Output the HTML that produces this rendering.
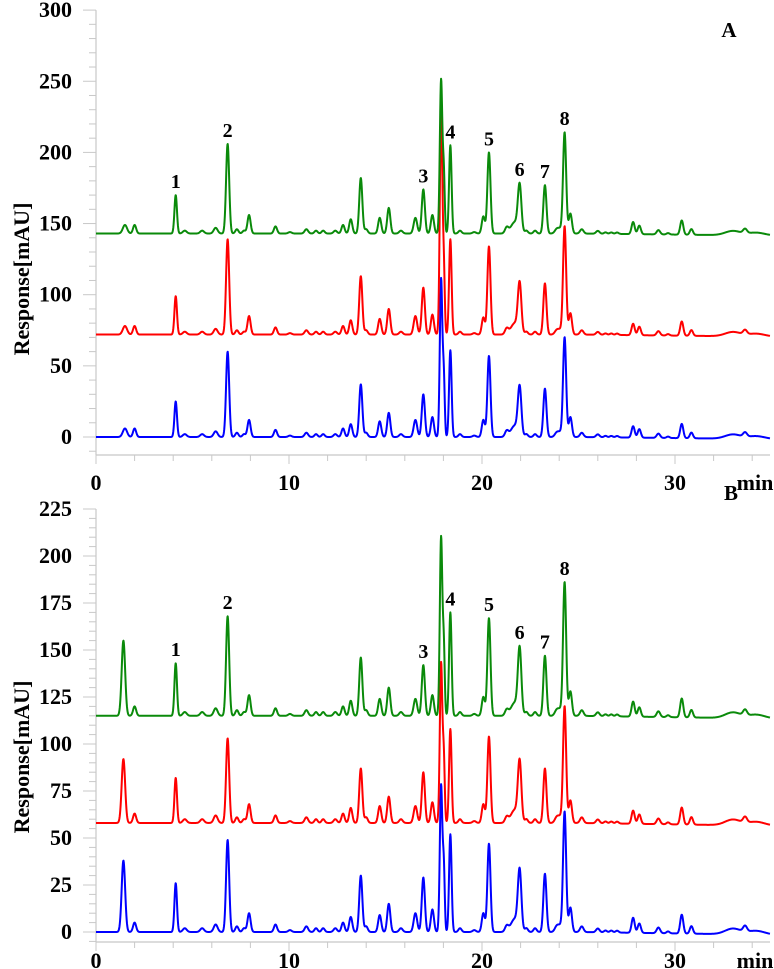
<!DOCTYPE html>
<html><head><meta charset="utf-8"><style>
html,body{margin:0;padding:0;background:#fff;}
svg{display:block;font-family:"Liberation Serif",serif;font-weight:bold;}
</style></head><body>
<svg id="chart" width="774" height="969" viewBox="0 0 774 969" xmlns="http://www.w3.org/2000/svg"></svg>
<script>
// Shared peak retention times (min) and peak widths (sigma, min)
const peakTimes = [1.42,1.5,2.0,4.13,4.6,5.5,6.2,6.82,7.3,7.67,7.93,9.3,10.05,10.9,11.4,11.77,12.4,12.8,13.2,13.72,14.0,14.7,15.17,15.8,16.55,16.96,17.43,17.88,18.02,18.36,18.86,19.6,20.07,20.36,21.28,21.7,21.95,22.3,22.75,23.26,23.87,24.05,24.28,24.58,25.17,26.0,26.4,26.7,27.0,27.83,28.15,29.14,29.64,30.35,30.85,33.0,33.63,34.2];
const peakWidths = [0.09,0.11,0.08,0.065,0.1,0.1,0.1,0.08,0.08,0.08,0.08,0.08,0.09,0.09,0.08,0.08,0.09,0.08,0.08,0.08,0.08,0.08,0.08,0.09,0.09,0.08,0.08,0.065,0.05,0.065,0.08,0.09,0.08,0.08,0.09,0.2,0.09,0.08,0.08,0.08,0.1,0.1,0.08,0.08,0.09,0.09,0.08,0.08,0.08,0.08,0.08,0.09,0.08,0.08,0.08,0.4,0.1,0.45];
// Panel A peak heights (mAU above baseline)
const heightsAGreen = [0,6,6,27,2,2,4,63,3,2,13,5,1,3,2,2,2,6,10,39,3,11,18,2,11,31,13,108,40,62,2,1,12,57,4,8,32,2,2,34,3,3,71,14,3,2,1,1,1,8.5,6,3,1,10,4,3,3,2];
const heightsARed   = [0,6,6,27,2,2,4,67,3,2,13,5,1,3,2,2,2,6,10,41,3,11,18,2,13,33,14,160,45,67,2,1,12,62,4,8,34,2,2,36,3,3,76,15,3,2,1,1,1,8,6,3,1,10,4,3,3,2];
const heightsABlue  = [0,6,6,25,2,2,4,60,3,2,12,5,1,3,2,2,2,6,9,37,3,11,17,2,12,30,14,111,40,61,2,1,12,57,4,8,33,2,2,34,3,3,70,14,3,2,1,1,1,8,6,3,1,10,4,3,3,2];
const baselinesA = [143,72,0];
// Panel B peak heights
const heightsBGreen = [40,0,5,28,2,2,4,53,3,2,11,4,1,3,2,2,2,5,8,31,3,9,15,2,9,27,11,95,35,55,2,1,10,52,3,7,34,2,2,32,3,3,71,13,3,2,1,1,1,8,5,3,1,10,4,3,3,2];
const heightsBRed   = [34,0,5,24,2,2,4,45,3,2,10,4,1,3,2,2,2,5,8,29,3,9,14,2,9,27,11,85,33,50,2,1,10,46,3,7,31,2,2,29,3,3,62,12,3,2,1,1,1,7,5,3,1,9,4,3,3,2];
const heightsBBlue  = [38,0,5,26,2,2,4,49,3,2,10,4,1,3,2,2,2,5,8,30,3,9,15,2,10,29,12,78,33,52,2,1,10,47,3,7,31,2,2,31,3,3,64,13,3,2,1,1,1,8,5,3,1,10,4,3,3,2];
const baselinesB = [115,58,0];
// Labelled peaks (index into peakTimes) and their numbers
const labelIdx = [3,7,25,29,33,36,39,42];
const labelText = ["1","2","3","4","5","6","7","8"];
const xTicksMajor = [0,10,20,30];
const yTicksA = [0,50,100,150,200,250,300];
const yTicksB = [0,25,50,75,100,125,150,175,200,225];

const NS="http://www.w3.org/2000/svg";
const svg=document.getElementById('chart');
function mk(tag,attrs,parent){const e=document.createElementNS(NS,tag);for(const k in attrs)e.setAttribute(k,attrs[k]);(parent||svg).appendChild(e);return e;}

function signal(t,heights){
  let v=0;
  for(let i=0;i<peakTimes.length;i++){
    const d=(t-peakTimes[i])/peakWidths[i];
    if(Math.abs(d)<8) v+=heights[i]*Math.exp(-0.5*d*d);
  }
  if(t>25) v-=Math.min(1.5,(t-25)*0.15);
  return v;
}

function panel(cfg){
  const g=mk('g',{});
  
  
  const X=t=>cfg.x0+t*cfg.pxMin;
  const Y=v=>cfg.yZero-v*cfg.pxUnit;
  const xEnd=770;
  const ya=mk('line',{x1:cfg.x0,y1:Y(cfg.yMax),x2:cfg.x0,y2:cfg.axisY,stroke:'#c8c8c8','stroke-width':1.2},g);
  
  
  for(let v=cfg.yMin;v<=cfg.yMax+0.01;v+=cfg.minor){
    const major=cfg.yTicks.includes(v);
    const tk=mk('line',{x1:cfg.x0-(major?13:7),y1:Y(v),x2:cfg.x0,y2:Y(v),stroke:'#c8c8c8','stroke-width':1},g);
    
    
  }
  cfg.yTicks.forEach(v=>{
    const tx=mk('text',{x:72,y:Y(v)+7,'text-anchor':'end','font-size':22,fill:'#000'},g);
    tx.textContent=v;
    
    
  });
  const xa=mk('line',{x1:cfg.x0,y1:cfg.axisY,x2:xEnd,y2:cfg.axisY,stroke:'#c8c8c8','stroke-width':1.2},g);
  
  
  for(let t=0;X(t)<=xEnd;t+=2){
    const major=xTicksMajor.includes(t);
    const tk=mk('line',{x1:X(t),y1:cfg.axisY,x2:X(t),y2:cfg.axisY+(major?9:6),stroke:'#c8c8c8','stroke-width':1},g);
    
    
  }
  xTicksMajor.forEach(t=>{
    const tx=mk('text',{x:X(t),y:cfg.axisY+cfg.xLabOff,'text-anchor':'middle','font-size':22,fill:'#000'},g);
    tx.textContent=t;
    
    
  });
  const mn=mk('text',{x:755,y:cfg.axisY+cfg.xLabOff,'text-anchor':'middle','font-size':22,fill:'#000'},g);
  mn.textContent='min';
  
  
  const yt=mk('text',{x:0,y:0,'text-anchor':'middle','font-size':22,fill:'#000',transform:`translate(29,${cfg.titleY}) rotate(-90)`},g);
  yt.textContent='Response[mAU]';
  
  
  const pl=mk('text',{x:cfg.letterX,y:cfg.letterY,'text-anchor':'middle','font-size':21,fill:'#000'},g);
  pl.textContent=cfg.letter;
  
  
  const cols=['#0000ff','#ff0000','#0a8a0a'];
  const names=['blue-trace','red-trace','green-trace'];
  const tMax=(xEnd-cfg.x0)/cfg.pxMin;
  [0,1,2].forEach(si=>{
    const h=cfg.heights[si], b=cfg.baselines[si];
    let d='';
    for(let t=0;t<=tMax;t+=0.015){
      const v=b+signal(t,h);
      d+=(d?'L':'M')+X(t).toFixed(2)+' '+Y(v).toFixed(2);
    }
    const p=mk('path',{d:d,fill:'none',stroke:cols[si],'stroke-width':2,'stroke-linejoin':'round'},g);
    
    
  });
  // peak labels above the top (green) trace
  labelIdx.forEach((pi,k)=>{
    const t=peakTimes[pi];
    const top=cfg.baselines[2]+signal(t,cfg.heights[2]);
    const tx=mk('text',{x:X(t),y:Y(top)-7,'text-anchor':'middle','font-size':20,fill:'#000'},g);
    tx.textContent=labelText[k];
    
    
  });
}

panel({name:'panel-a',x0:96,pxMin:19.3,yZero:437,pxUnit:1.423,yMin:-10,yMax:300,minor:10,axisY:455,xLabOff:35,yTicks:yTicksA,
  heights:[heightsABlue,heightsARed,heightsAGreen],baselines:[baselinesA[2],baselinesA[1],baselinesA[0]],
  titleY:279,letter:'A',letterX:729,letterY:37});
panel({name:'panel-b',x0:96,pxMin:19.3,yZero:932,pxUnit:1.88,yMin:-5,yMax:225,minor:5,axisY:942,xLabOff:26,yTicks:yTicksB,
  heights:[heightsBBlue,heightsBRed,heightsBGreen],baselines:[baselinesB[2],baselinesB[1],baselinesB[0]],
  titleY:757,letter:'B',letterX:731,letterY:500});
</script>
</body></html>
